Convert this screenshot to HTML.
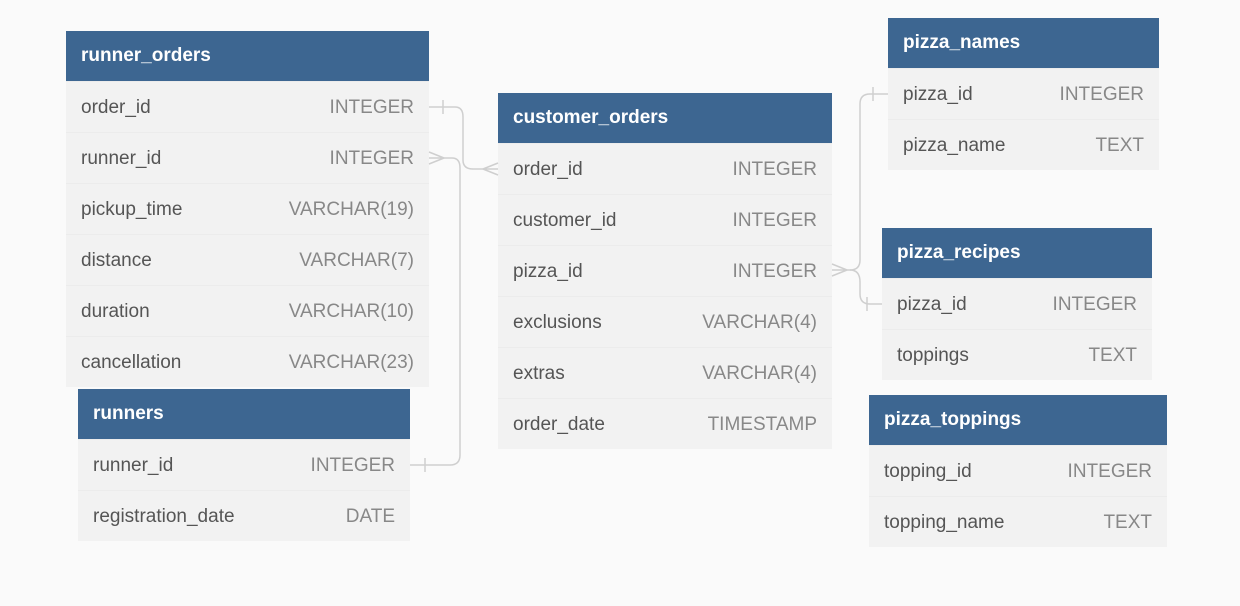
<!DOCTYPE html>
<html><head><style>
body{margin:0;width:1240px;height:606px;background:#fafafa;position:relative;overflow:hidden;font-family:"Liberation Sans",sans-serif}
.t{position:absolute;background:#f2f2f2}
.h{height:50px;background:#3d6691;color:#fff;font-weight:bold;font-size:19px;line-height:50px;padding-left:15px;box-sizing:border-box}
.r{height:51px;line-height:51px;font-size:19px;color:#555;padding:0 15px;display:flex;justify-content:space-between;border-top:1px solid #ececec;box-sizing:border-box}
.r span:last-child{color:#888}
svg{position:absolute;left:0;top:0}
</style></head><body>
<div class="t" style="left:66px;top:31px;width:363px"><div class="h">runner_orders</div>
<div class="r"><span>order_id</span><span>INTEGER</span></div>
<div class="r"><span>runner_id</span><span>INTEGER</span></div>
<div class="r"><span>pickup_time</span><span>VARCHAR(19)</span></div>
<div class="r"><span>distance</span><span>VARCHAR(7)</span></div>
<div class="r"><span>duration</span><span>VARCHAR(10)</span></div>
<div class="r"><span>cancellation</span><span>VARCHAR(23)</span></div></div>
<div class="t" style="left:78px;top:389px;width:332px"><div class="h">runners</div>
<div class="r"><span>runner_id</span><span>INTEGER</span></div>
<div class="r"><span>registration_date</span><span>DATE</span></div></div>
<div class="t" style="left:498px;top:93px;width:334px"><div class="h">customer_orders</div>
<div class="r"><span>order_id</span><span>INTEGER</span></div>
<div class="r"><span>customer_id</span><span>INTEGER</span></div>
<div class="r"><span>pizza_id</span><span>INTEGER</span></div>
<div class="r"><span>exclusions</span><span>VARCHAR(4)</span></div>
<div class="r"><span>extras</span><span>VARCHAR(4)</span></div>
<div class="r"><span>order_date</span><span>TIMESTAMP</span></div></div>
<div class="t" style="left:888px;top:18px;width:271px"><div class="h">pizza_names</div>
<div class="r"><span>pizza_id</span><span>INTEGER</span></div>
<div class="r"><span>pizza_name</span><span>TEXT</span></div></div>
<div class="t" style="left:882px;top:228px;width:270px"><div class="h">pizza_recipes</div>
<div class="r"><span>pizza_id</span><span>INTEGER</span></div>
<div class="r"><span>toppings</span><span>TEXT</span></div></div>
<div class="t" style="left:869px;top:395px;width:298px"><div class="h">pizza_toppings</div>
<div class="r"><span>topping_id</span><span>INTEGER</span></div>
<div class="r"><span>topping_name</span><span>TEXT</span></div></div>
<svg width="1240" height="606" fill="none" stroke="#cfcfcf" stroke-width="1.5">
<path d="M429 107 H455 Q463 107 463 117 V160 Q463 169 473 169 H498"/>
<path d="M443 100 V114"/>
<path d="M483 169 L498 163 M483 169 L498 175"/>
<path d="M429 158 H452 Q460 158 460 168 V455 Q460 465 450 465 H410"/>
<path d="M444 158 L429 152 M444 158 L429 164"/>
<path d="M425 458 V472"/>
<path d="M832 270 H850 Q860 270 860 260 V104 Q860 94 870 94 H888"/>
<path d="M850 270 Q860 270 860 282 V294 Q860 304 870 304 H882"/>
<path d="M847 270 L832 264 M847 270 L832 276"/>
<path d="M873 87 V101 M867 297 V311"/>
</svg>
</body></html>
